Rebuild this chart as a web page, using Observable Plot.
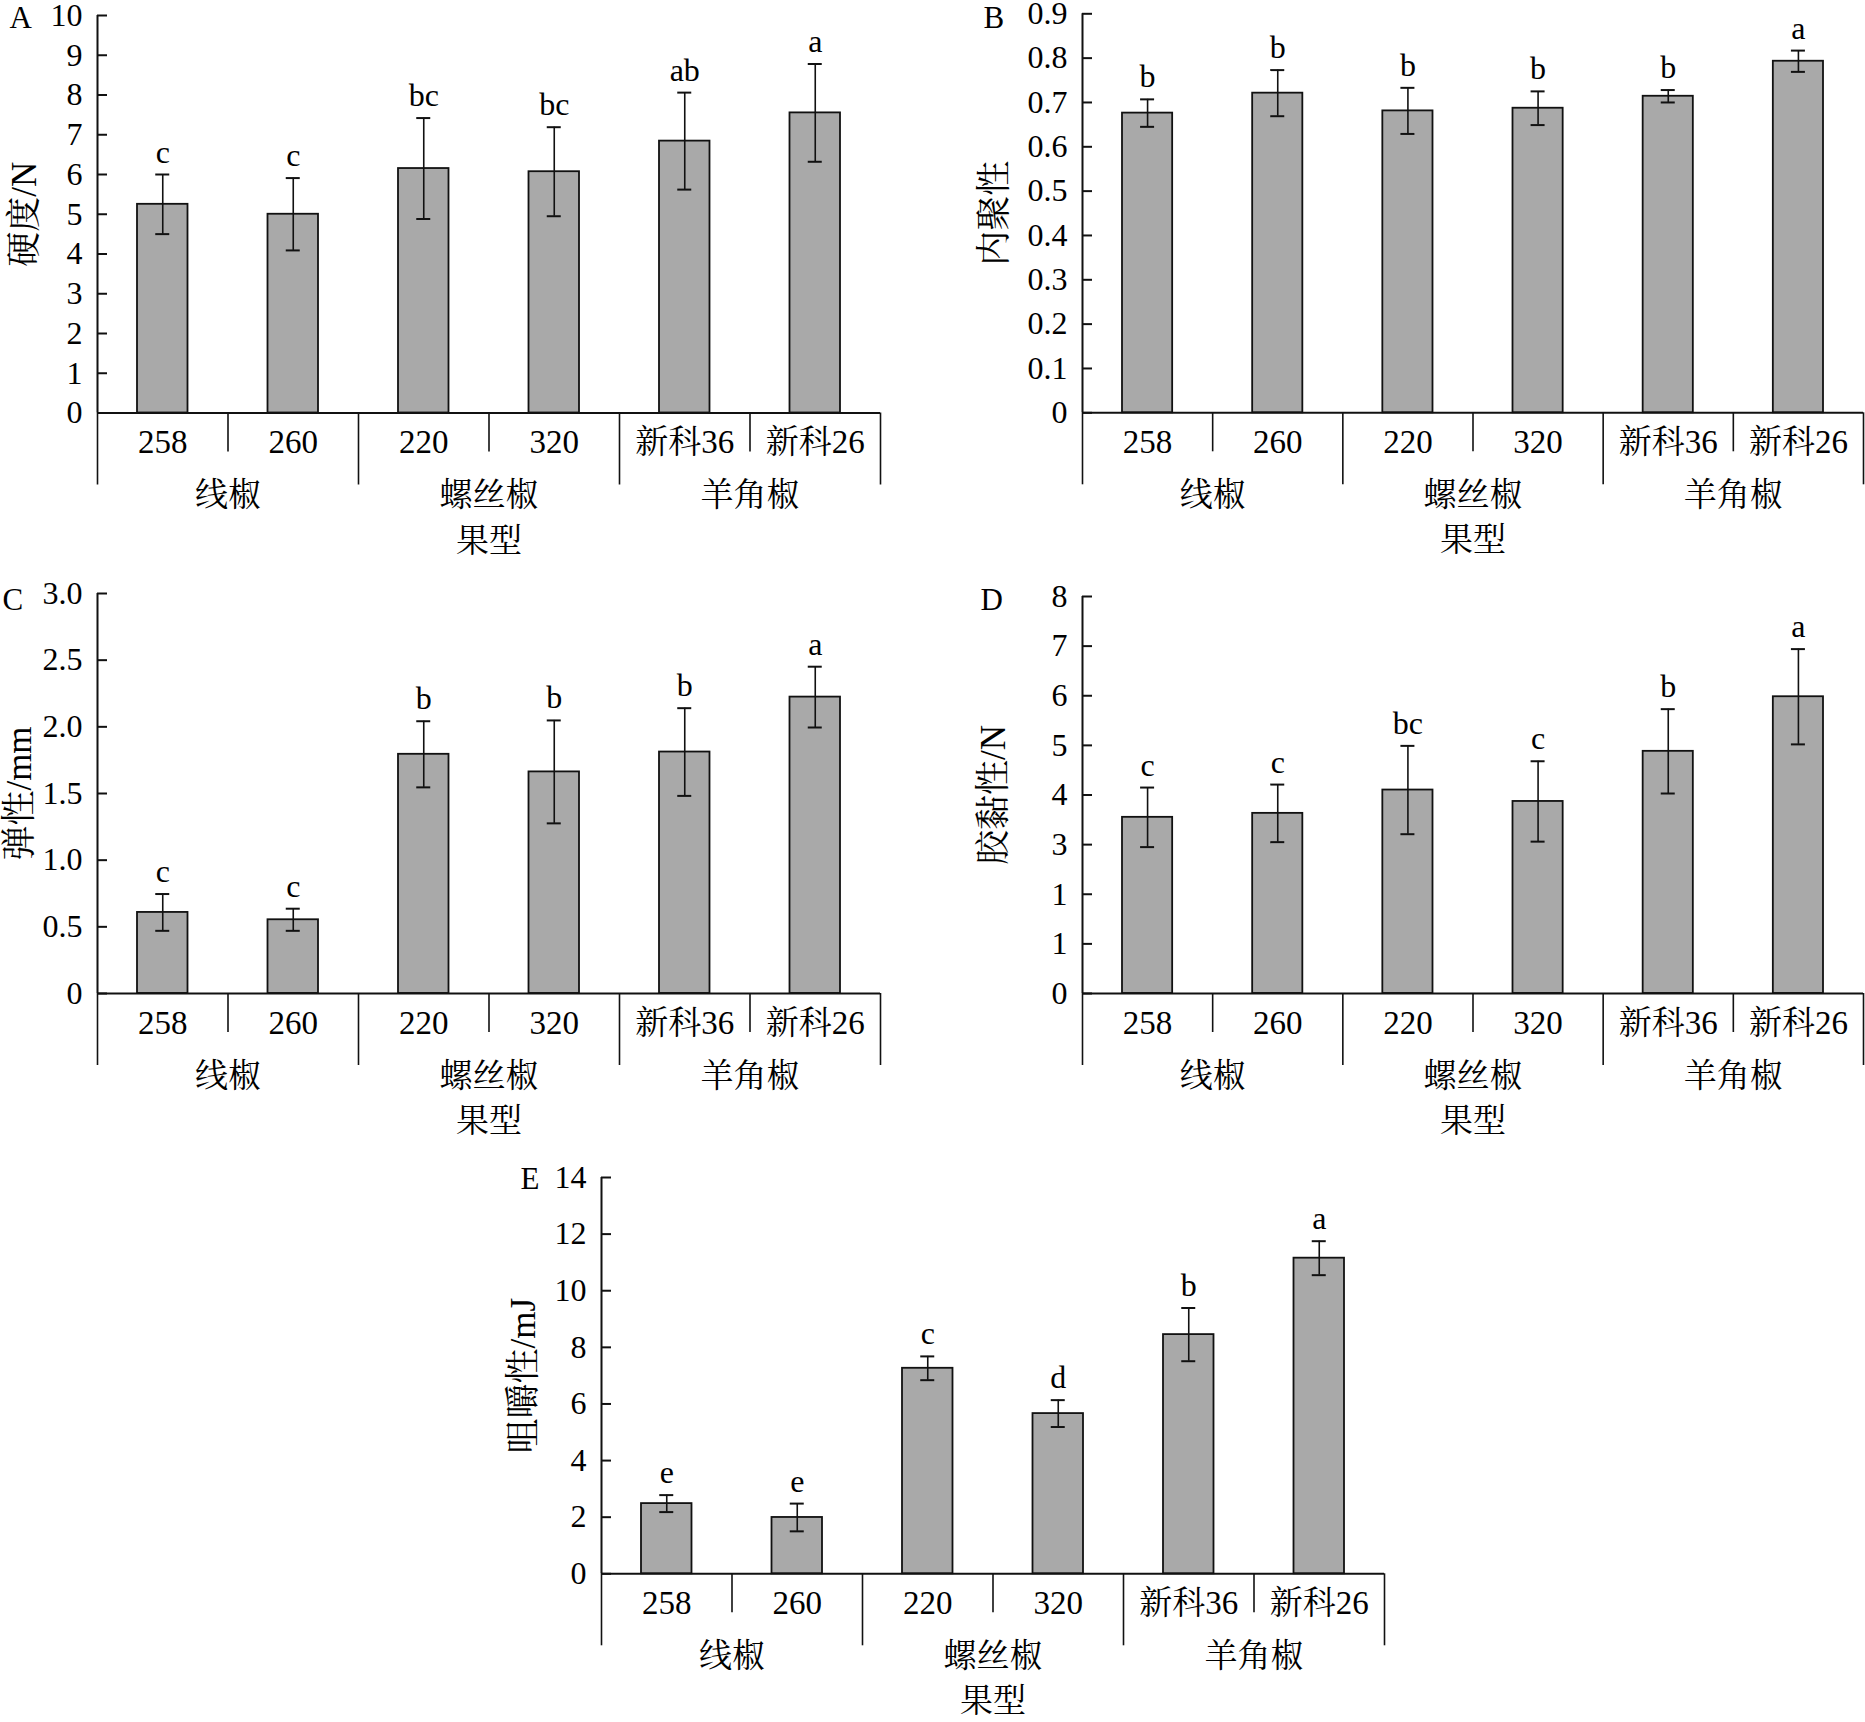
<!DOCTYPE html>
<html><head><meta charset="utf-8">
<script src="https://cdn.jsdelivr.net/npm/d3@7"></script>
<script src="https://cdn.jsdelivr.net/npm/@observablehq/plot@0.6"></script>
<style>
body{margin:0;background:#fff}
#root{position:relative;width:1865px;height:1722px;background:#fff;overflow:hidden}
#root svg{position:absolute;max-width:none}
</style>
</head><body><div id="root"></div>
<script>
// ---- data ----
const cultivars = ["258", "260", "220", "320", "新科36", "新科26"];
const cultivarGroup = ["线椒", "线椒", "螺丝椒", "螺丝椒", "羊角椒", "羊角椒"];
const groups = ["线椒", "螺丝椒", "羊角椒"];
const xLabel = "果型";

const hardness = [5.25, 5.00, 6.15, 6.07, 6.84, 7.55];
const hardnessSD = [0.75, 0.91, 1.27, 1.12, 1.22, 1.23];
const hardnessSig = ["c", "c", "bc", "bc", "ab", "a"];
const hardnessTicks = [0, 1, 2, 3, 4, 5, 6, 7, 8, 9, 10];
const hardnessTickLabels = ["0", "1", "2", "3", "4", "5", "6", "7", "8", "9", "10"];

const cohesion = [0.676, 0.721, 0.681, 0.687, 0.714, 0.793];
const cohesionSD = [0.031, 0.052, 0.052, 0.038, 0.014, 0.024];
const cohesionSig = ["b", "b", "b", "b", "b", "a"];
const cohesionTicks = [0, 0.1, 0.2, 0.3, 0.4, 0.5, 0.6, 0.7, 0.8, 0.9];
const cohesionTickLabels = ["0", "0.1", "0.2", "0.3", "0.4", "0.5", "0.6", "0.7", "0.8", "0.9"];

const springiness = [0.608, 0.553, 1.794, 1.662, 1.811, 2.223];
const springinessSD = [0.138, 0.083, 0.248, 0.386, 0.329, 0.228];
const springinessSig = ["c", "c", "b", "b", "b", "a"];
const springinessTicks = [0, 0.5, 1, 1.5, 2, 2.5, 3];
const springinessTickLabels = ["0", "0.5", "1.0", "1.5", "2.0", "2.5", "3.0"];

const gumminess = [3.55, 3.63, 4.10, 3.87, 4.88, 5.98];
const gumminessSD = [0.60, 0.58, 0.89, 0.81, 0.85, 0.96];
const gumminessSig = ["c", "c", "bc", "c", "b", "a"];
const gumminessTicks = [0, 1, 2, 3, 4, 5, 6, 7, 8];
const gumminessTickLabels = ["0", "1", "1", "3", "4", "5", "6", "7", "8"];

const chewiness = [2.48, 1.99, 7.26, 5.66, 8.45, 11.15];
const chewinessSD = [0.30, 0.49, 0.42, 0.475, 0.94, 0.60];
const chewinessSig = ["e", "e", "c", "d", "b", "a"];
const chewinessTicks = [0, 2, 4, 6, 8, 10, 12, 14];
const chewinessTickLabels = ["0", "2", "4", "6", "8", "10", "12", "14"];

// ---- derived ----
const FONT = "'Liberation Serif', 'Noto Serif CJK SC', 'Noto Sans CJK SC', serif";
const n = cultivars.length;
const centers = cultivars.map((_, i) => i + 0.5);
const groupCenters = groups.map(g => d3.mean(cultivarGroup.map((c, i) => [c, i]).filter(([c]) => c === g), ([, i]) => i + 0.5));
const bounds = d3.range(n + 1);
const majorBounds = bounds.filter(b => b === 0 || b === n || cultivarGroup[b] !== cultivarGroup[b - 1]);
const minorBounds = bounds.filter(b => !majorBounds.includes(b));

function panel(cfg) {
  const rows = cultivars.map((name, i) => ({
    i, c: i + 0.5, name, v: cfg.values[i],
    lo: cfg.values[i] - cfg.sd[i], hi: cfg.values[i] + cfg.sd[i], sig: cfg.sig[i]
  }));
  const ink = "#111";
  const svg = Plot.plot({
    width: cfg.width, height: cfg.height,
    marginLeft: cfg.mL, marginRight: cfg.mR, marginTop: cfg.mT, marginBottom: cfg.mB,
    x: {domain: [0, n]},
    y: {domain: [0, d3.max(cfg.ticks)]},
    style: {fontFamily: FONT, fontSize: "32px", color: "#000", background: "transparent", overflow: "visible"},
    marks: [
      Plot.rectY(rows, {x1: "i", x2: d => d.i + 1, y: "v", insetLeft: 40, insetRight: 40, fill: "#a9a9a9", stroke: ink, strokeWidth: 1.8}),
      Plot.ruleX(rows, {x: "c", y1: "lo", y2: "hi", stroke: ink, strokeWidth: 1.6}),
      Plot.ruleY(rows, {x1: "c", x2: "c", y: "hi", insetLeft: -7, insetRight: -7, stroke: ink, strokeWidth: 2}),
      Plot.ruleY(rows, {x1: "c", x2: "c", y: "lo", insetLeft: -7, insetRight: -7, stroke: ink, strokeWidth: 2}),
      Plot.text(rows, {x: "c", y: "hi", text: "sig", dy: -12, lineAnchor: "bottom", fontSize: 32, fill: "#000"}),
      Plot.ruleY([0], {stroke: ink, strokeWidth: 2}),
      Plot.ruleX([0], {stroke: ink, strokeWidth: 2}),
      Plot.axisY({ticks: cfg.ticks, tickSize: -10, text: null, label: null, stroke: ink, strokeWidth: 2}),
      Plot.axisY({ticks: cfg.ticks, tickSize: 0, tickPadding: 15, label: null, fontSize: 32,
        tickFormat: d => cfg.tickLabels[cfg.ticks.indexOf(d)]}),
      Plot.axisX({ticks: minorBounds, tickSize: 39, text: null, label: null, stroke: ink, strokeWidth: 1.6}),
      Plot.axisX({ticks: majorBounds, tickSize: 72, text: null, label: null, stroke: ink, strokeWidth: 1.6}),
      Plot.axisX({ticks: centers, tickSize: 0, tickPadding: 17, label: null, fontSize: 33,
        tickFormat: d => cultivars[centers.indexOf(d)]}),
      Plot.axisX({ticks: groupCenters, tickSize: 0, tickPadding: 70, label: null, fontSize: 33,
        tickFormat: d => groups[groupCenters.indexOf(d)]}),
      Plot.text([xLabel], {text: d => d, frameAnchor: "bottom", dy: 128, textAnchor: "middle", lineAnchor: "middle", fontSize: 33}),
      Plot.text([cfg.ylabel], {text: d => d, frameAnchor: "left", dx: cfg.ylDx, rotate: -90, textAnchor: "middle", lineAnchor: "middle", fontSize: 35}),
      Plot.text([cfg.letter], {text: d => d, frameAnchor: "top-left", dx: cfg.ltDx, dy: cfg.ltDy, textAnchor: "start", lineAnchor: "bottom", fontSize: 31})
    ]
  });
  svg.style.left = cfg.left + "px";
  svg.style.top = cfg.top + "px";
  document.getElementById("root").appendChild(svg);
}

panel({letter: "A", ylabel: "硬度/N", values: hardness, sd: hardnessSD, sig: hardnessSig,
  ticks: hardnessTicks, tickLabels: hardnessTickLabels,
  left: 0, top: 0, width: 932, height: 570, mL: 97, mR: 52, mT: 15, mB: 157.5, ylDx: -73, ltDx: -88, ltDy: 12});
panel({letter: "B", ylabel: "内聚性", values: cohesion, sd: cohesionSD, sig: cohesionSig,
  ticks: cohesionTicks, tickLabels: cohesionTickLabels,
  left: 932, top: 0, width: 933, height: 570, mL: 150, mR: 2, mT: 13.3, mB: 157.7, ylDx: -88, ltDx: -99, ltDy: 14});
panel({letter: "C", ylabel: "弹性/mm", values: springiness, sd: springinessSD, sig: springinessSig,
  ticks: springinessTicks, tickLabels: springinessTickLabels,
  left: 0, top: 570, width: 932, height: 580, mL: 97, mR: 52, mT: 23, mB: 157, ylDx: -78, ltDx: -95, ltDy: 16});
panel({letter: "D", ylabel: "胶黏性/N", values: gumminess, sd: gumminessSD, sig: gumminessSig,
  ticks: gumminessTicks, tickLabels: gumminessTickLabels,
  left: 932, top: 570, width: 933, height: 580, mL: 150, mR: 2, mT: 26, mB: 157, ylDx: -89, ltDx: -102, ltDy: 13});
panel({letter: "E", ylabel: "咀嚼性/mJ", values: chewiness, sd: chewinessSD, sig: chewinessSig,
  ticks: chewinessTicks, tickLabels: chewinessTickLabels,
  left: 0, top: 1150, width: 1865, height: 572, mL: 601, mR: 481, mT: 27, mB: 148.7, ylDx: -78, ltDx: -81, ltDy: 11});
</script>
</body></html>
